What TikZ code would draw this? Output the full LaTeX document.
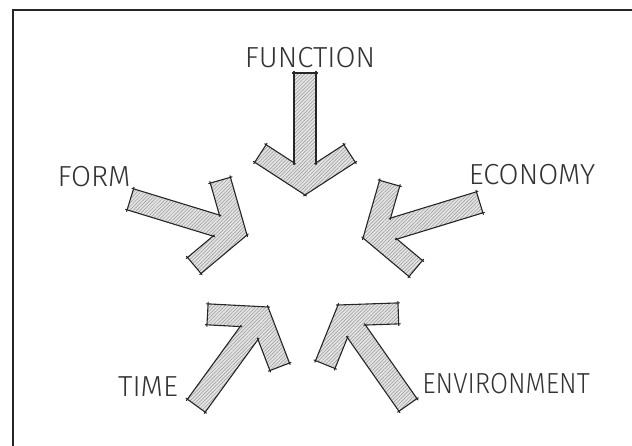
\documentclass[tikz,border=0pt]{standalone}
\usepackage{fontspec}
\setmainfont{Fira Sans Light}
\usetikzlibrary{patterns.meta}

\tikzset{
  frameline/.style={line width=1.6pt,black!85},
  hatch/.style={fill=gray!22,postaction={pattern={Lines[angle=45,distance=2.5pt,line width=0.5pt]},pattern color=gray!80}},
  edge/.style={line width=1.1pt,black!85,line cap=round,shorten <=-1.6pt,shorten >=-1.6pt},
  label/.style={font=\fontsize{29}{29}\selectfont,inner sep=0pt,text=black!80}
}

\begin{document}
\begin{tikzpicture}[x=1pt,y=1pt]
\useasboundingbox (0,0) rectangle (632,446);
\draw[frameline] (632,436) -- (13,436) -- (13,0);

% the five arrows: tip x / tip y / direction
\foreach \x/\y/\r in {305/251/-90, 247/211/-17, 363/208/-163, 268/139/54, 338/141/125} {
  \begin{scope}[shift={(\x,\y)},rotate=\r]
    \coordinate (t) at (0,0);
    \coordinate (u1) at (-32.7,50.3); \coordinate (u2) at (-50.3,38.9); \coordinate (u3) at (-32.2,11);
    \coordinate (e1) at (-122,11); \coordinate (e2) at (-122,-11);
    \coordinate (l3) at (-32.2,-11); \coordinate (l2) at (-50.3,-38.9); \coordinate (l1) at (-32.7,-50.3);
    \path[hatch] (t)--(u1)--(u2)--(u3)--(e1)--(e2)--(l3)--(l2)--(l1)--cycle;
    \foreach \p/\q in {t/u1,u1/u2,u2/u3,u3/e1,e1/e2,e2/l3,l3/l2,l2/l1,l1/t} \draw[edge] (\p)--(\q);
  \end{scope}
}

\node[label] (function) at (310,388) {FUNCTION};
\node[label] (form) at (94,269) {FORM};
\node[label] (economy) at (532,271) {ECONOMY};
\node[label] (time) at (148,59) {TIME};
\node[label,xscale=0.9] (environment) at (506,62) {ENVIRONMENT};
\end{tikzpicture}
\end{document}
